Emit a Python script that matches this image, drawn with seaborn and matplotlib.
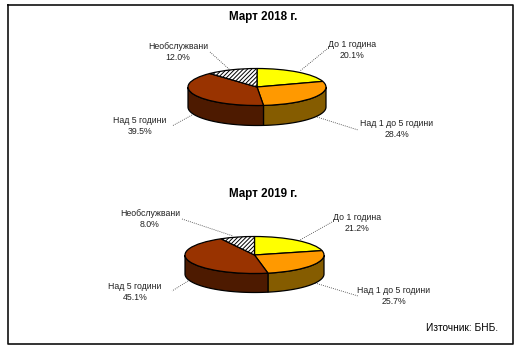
import matplotlib.pyplot as plt
import numpy as np
import seaborn as sns

# DATA
categories = ['До 1 година', 'Над 1 до 5 години', 'Над 5 години', 'Необслужвани']
values_2018 = [20.1, 28.4, 39.5, 12.0]
values_2019 = [21.2, 25.7, 45.1, 8.0]
titles = ['Март 2018 г.', 'Март 2019 г.']
source = 'Източник: БНБ.'

top_colors = ['#ffff00', '#ff9900', '#993300', '#ffffff']
side_colors = ['#808000', '#855c00', '#4d1a00', '#808080']

W, H = 522, 353

sns.set_theme(style='white')
plt.rcParams['font.family'] = ['Liberation Sans', 'DejaVu Sans']
plt.rcParams['hatch.linewidth'] = 0.7

fig = plt.figure(figsize=(W / 100, H / 100), dpi=100)
bg = fig.add_axes([0, 0, 1, 1])
bg.set_xlim(0, W)
bg.set_ylim(H, 0)
bg.axis('off')

# outer frame
bg.plot([8, 512.5, 512.5, 8, 8], [4.5, 4.5, 344, 344, 4.5], color='#111111', lw=1.2)


def draw_pie(values, cx, cy, rx, ry, depth):
    # pie axes in pixels, one data unit is rx across and ry down
    pad = 1.1
    dep = depth / ry
    left, right = cx - pad * rx, cx + pad * rx
    top, bottom = cy - pad * ry, cy + (pad + dep) * ry
    ax = fig.add_axes([left / W, 1 - bottom / H, (right - left) / W, (bottom - top) / H])
    ax.patch.set_alpha(0)

    # front wall, only the part of each slice between 180 and 360 deg
    edges = 90 - np.cumsum([0] + values) * 3.6
    for i in range(len(values)):
        hi, lo = edges[i], edges[i + 1]
        hi = min(hi, 0)
        lo = max(lo, -180)
        if hi <= lo:
            continue
        t = np.radians(np.linspace(hi, lo, 60))
        xs = np.r_[np.cos(t), np.cos(t[::-1])]
        ys = np.r_[np.sin(t), np.sin(t[::-1]) - dep]
        ax.fill(xs, ys, facecolor=side_colors[i], edgecolor='black', lw=0.9)

    wedges, _ = ax.pie(values, colors=top_colors, startangle=90, counterclock=False,
                       wedgeprops={'edgecolor': 'black', 'linewidth': 0.9})
    wedges[3].set_hatch('////////')
    ax.set_aspect('auto')
    ax.set_xlim(-pad, pad)
    ax.set_ylim(-pad - dep, pad)
    ax.axis('off')


def draw_labels(values, label_pos, leaders):
    for cat, val, (x, y), (x0, y0, x1, y1) in zip(categories, values, label_pos, leaders):
        bg.text(x, y, f'{cat}\n{val:.1f}%', ha='center', va='center', fontsize=6.3,
                color='#222222', linespacing=1.4)
        bg.plot([x0, x1], [y0, y1], color='#333333', lw=0.6, ls=(0, (1, 1.5)))


draw_pie(values_2018, 257, 87, 69, 18.5, 20)
draw_pie(values_2019, 254.5, 255, 69.5, 18.5, 19)

draw_labels(values_2018,
            [(352, 50), (397, 129), (140, 126), (178, 52)],
            [(327, 49, 300, 71), (317, 117, 358, 130), (192, 115, 172, 126), (210, 52, 230, 70)])
draw_labels(values_2019,
            [(357, 223), (394, 296), (135, 292), (150, 219)],
            [(332, 222, 300, 240), (315, 283, 358, 296), (188, 281, 172, 291), (182, 219, 233, 236)])

bg.text(263, 17, titles[0], ha='center', va='center', fontsize=8.4, fontweight='bold', color='black')
bg.text(263, 194, titles[1], ha='center', va='center', fontsize=8.4, fontweight='bold', color='black')
bg.text(498, 328, source, ha='right', va='center', fontsize=7.3, color='black')

fig.savefig('out.png', dpi=100)
